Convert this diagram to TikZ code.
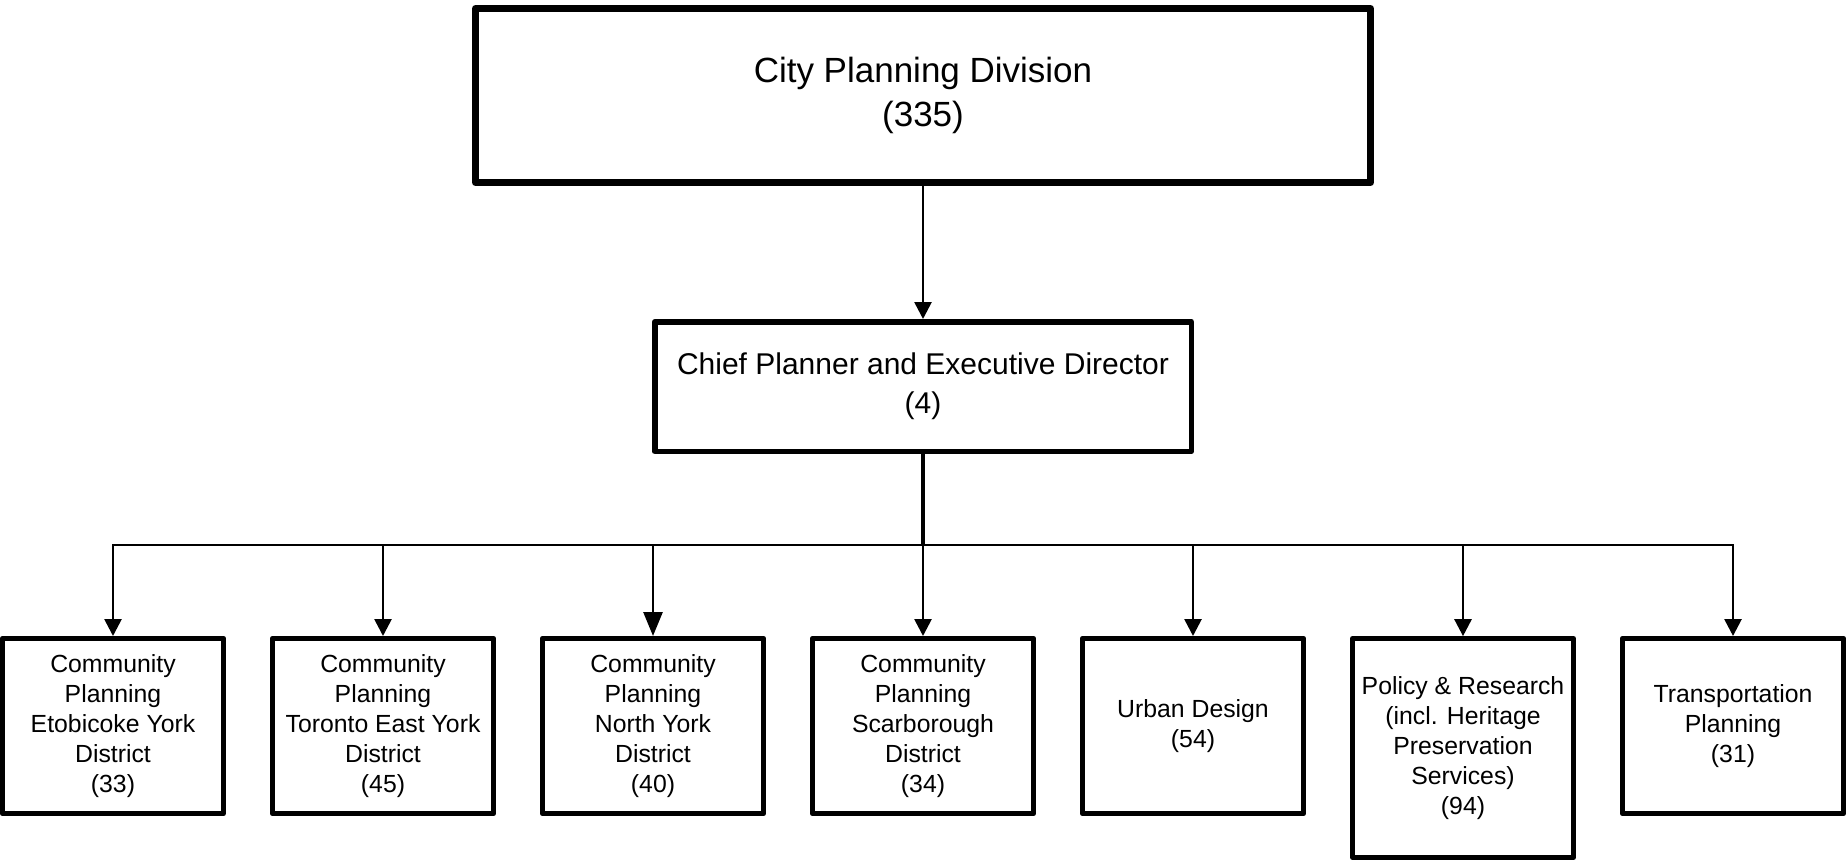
\documentclass[tikz,border=0pt]{standalone}
\usepackage{fontspec}
\setmainfont{Liberation Sans}
\usetikzlibrary{arrows.meta}
\begin{document}
\begin{tikzpicture}[x=1pt,y=-1pt,
  topbox/.style={draw,line width=7pt,minimum width=895pt,minimum height=174pt,inner sep=0pt,align=center,font=\fontsize{35}{44}\selectfont,line join=round},
  midbox/.style={draw,line width=5.5pt,minimum width=536.5pt,minimum height=129.5pt,inner sep=0pt,align=center,font=\fontsize{30}{39}\selectfont,line join=round},
  unitbox/.style={draw,line width=4.7pt,minimum width=221.3pt,minimum height=175.3pt,inner sep=0pt,align=center,font=\fontsize{24.8}{30}\selectfont,line join=round},
  conn/.style={line width=2.7pt,-{Triangle[length=17pt,width=17pt]}},
  bigconn/.style={line width=2.7pt,-{Triangle[length=24pt,width=19pt]}},
  trunk/.style={line width=4.3pt},
]
\useasboundingbox (0,0) rectangle (1846,861);

\node[topbox] (cpd) at (923,95.5) {City Planning Division\\(335)};
\node[midbox] (chief) at (923,386.5) {Chief Planner and Executive Director\\(4)};

\node[unitbox] (u1) at (113,726) {Community\\Planning\\Etobicoke York\\District\\(33)};
\node[unitbox] (u2) at (383,726) {Community\\Planning\\Toronto East York\\District\\(45)};
\node[unitbox] (u3) at (653,726) {Community\\Planning\\North York\\District\\(40)};
\node[unitbox] (u4) at (923,726) {Community\\Planning\\Scarborough\\District\\(34)};
\node[unitbox] (u5) at (1193,726) {Urban Design\\(54)};
\node[unitbox,minimum height=219pt] (u6) at (1463,748) {Policy \& Research\\(incl. Heritage\\Preservation\\Services)\\(94)};
\node[unitbox] (u7) at (1733,726) {Transportation\\Planning\\(31)};

\coordinate (busc) at (923,545);

\draw[conn] (cpd.south) -- (chief.north);
\draw[trunk] (chief.south) -- (busc);
\draw[conn] (busc) -| (u1.north);
\draw[conn] (busc) -| (u7.north);
\draw[conn] (u2.north |- busc) -- (u2.north);
\draw[bigconn] (u3.north |- busc) -- (u3.north);
\draw[conn] (busc) -- (u4.north);
\draw[conn] (u5.north |- busc) -- (u5.north);
\draw[conn] (u6.north |- busc) -- (u6.north);
\end{tikzpicture}
\end{document}
